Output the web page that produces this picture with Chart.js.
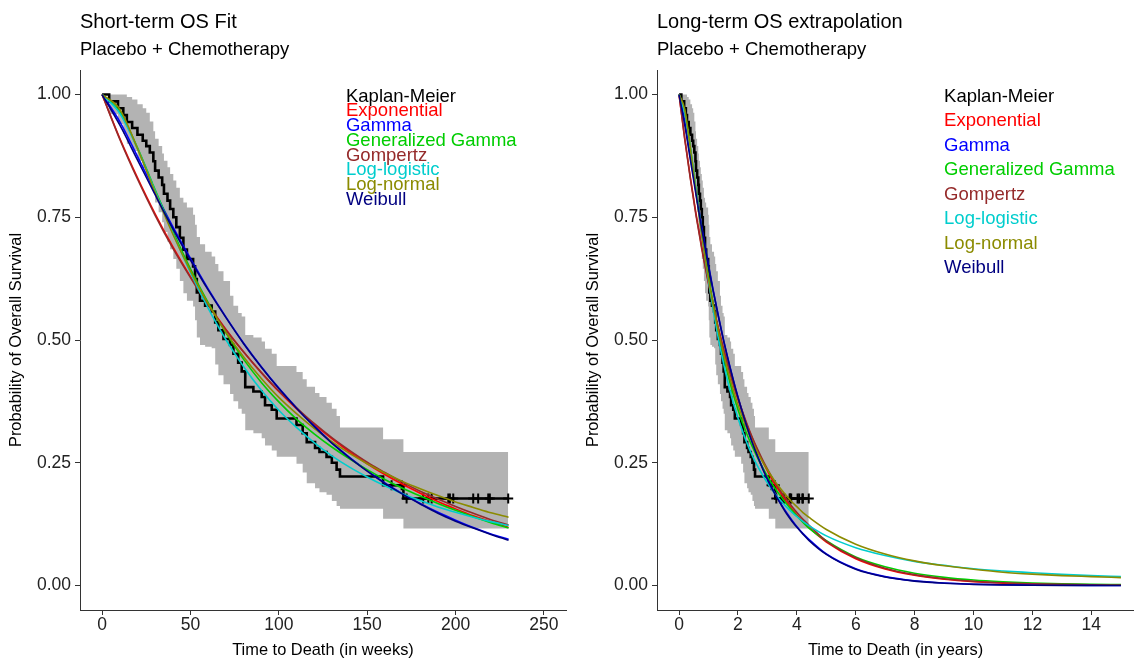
<!DOCTYPE html>
<html>
<head>
<meta charset="utf-8">
<script src="https://cdn.jsdelivr.net/npm/chart.js@4.4.0/dist/chart.umd.min.js"></script>
<style>
  html, body { margin: 0; padding: 0; background: #fff; overflow: hidden; }
  #left { position: absolute; left: 0; top: 0; }
  #right { position: absolute; left: 577px; top: 0; }
</style>
</head>
<body>
<canvas id="left" width="573" height="662"></canvas>
<canvas id="right" width="564" height="662"></canvas>
<script>
const WEEKS_PER_YEAR = 52.18;

// Kaplan-Meier steps (weeks) with 95% band
const kmWeeks = [0, 4, 9, 12, 14, 17, 20, 23, 25, 27, 29, 30, 32, 34, 35, 37, 38.5, 40.3, 42, 44,
  46, 48, 51.5, 52.6, 53.6, 55.4, 58.3, 62, 64, 65.8, 68.7, 72.4, 74.3, 77, 79, 81, 85.6, 90.3, 92.2, 96,
  98.8, 110, 113.5, 115.8, 120.5, 123, 127, 130, 132.7, 134.6, 159, 170.5];
const kmSurv = [1, 0.986, 0.972, 0.958, 0.944, 0.932, 0.918, 0.906, 0.895, 0.882, 0.864, 0.845, 0.831, 0.816, 0.798, 0.784, 0.767, 0.750, 0.730, 0.708,
  0.684, 0.665, 0.650, 0.624, 0.597, 0.580, 0.570, 0.558, 0.536, 0.520, 0.502, 0.490, 0.472, 0.454, 0.436, 0.404, 0.395, 0.384, 0.367, 0.358,
  0.340, 0.327, 0.310, 0.292, 0.280, 0.272, 0.262, 0.250, 0.236, 0.222, 0.204, 0.177];
const kmUpper = [1, 1, 1, 1, 0.995, 0.99, 0.98, 0.972, 0.963, 0.945, 0.925, 0.91, 0.895, 0.88, 0.865, 0.852, 0.838, 0.825, 0.81, 0.79,
  0.78, 0.77, 0.755, 0.735, 0.71, 0.695, 0.68, 0.67, 0.655, 0.64, 0.62, 0.59, 0.57, 0.555, 0.548, 0.51, 0.505, 0.497, 0.482, 0.472,
  0.447, 0.435, 0.42, 0.405, 0.392, 0.384, 0.372, 0.36, 0.345, 0.322, 0.298, 0.272];
const kmLower = [1, 0.96, 0.94, 0.92, 0.90, 0.885, 0.865, 0.85, 0.835, 0.82, 0.80, 0.78, 0.76, 0.74, 0.72, 0.70, 0.685, 0.665, 0.645, 0.62,
  0.595, 0.58, 0.568, 0.54, 0.505, 0.49, 0.486, 0.483, 0.45, 0.428, 0.41, 0.39, 0.375, 0.36, 0.35, 0.316, 0.31, 0.30, 0.285, 0.275,
  0.262, 0.248, 0.23, 0.208, 0.198, 0.19, 0.185, 0.172, 0.162, 0.156, 0.136, 0.116];
const kmEndWeek = 229.8;

const censorWeeks = [163.8, 169.5, 172.3, 181.7, 184.6, 186.5, 195.9, 196.8, 198.7, 210, 212.8, 218.5, 219.4, 229.8];
const censorSurv = [0.204, 0.204, 0.177, 0.177, 0.177, 0.177, 0.177, 0.177, 0.177, 0.177, 0.177, 0.177, 0.177, 0.177];

// fitted survival curves, read at these weeks
const fitWeeks = [0, 10, 20, 30, 40, 50, 60, 70, 80, 90, 100, 110, 120, 130, 140, 150, 160, 170, 180, 190, 200, 210, 220, 230,
  261, 313, 365, 417, 470, 522, 574, 626, 678, 730, 783];
const expSurv = [1, 0.911, 0.831, 0.757, 0.690, 0.629, 0.573, 0.522, 0.476, 0.434, 0.395, 0.360, 0.328, 0.299, 0.272, 0.248, 0.226, 0.206, 0.188, 0.171, 0.156, 0.142, 0.130, 0.118,
  0.0885, 0.0546, 0.0337, 0.0208, 0.0127, 0.0078, 0.0048, 0.0030, 0.0018, 0.0011, 0.0007];
const gammaSurv = [1, 0.945, 0.874, 0.801, 0.731, 0.666, 0.604, 0.547, 0.494, 0.446, 0.402, 0.362, 0.325, 0.291, 0.261, 0.234, 0.209, 0.187, 0.167, 0.149, 0.133, 0.118, 0.105, 0.094,
  0.064, 0.034, 0.018, 0.0095, 0.005, 0.0026, 0.0013, 0.0007, 0.0004, 0.0002, 0.0001];
const genGammaSurv = [1, 0.965, 0.892, 0.806, 0.722, 0.645, 0.576, 0.515, 0.461, 0.414, 0.374, 0.339, 0.309, 0.282, 0.258, 0.236, 0.216, 0.198, 0.182, 0.167, 0.153, 0.140, 0.128, 0.117,
  0.091, 0.058, 0.038, 0.025, 0.0165, 0.011, 0.0075, 0.005, 0.0035, 0.0025, 0.0018];
const gompertzSurv = [1, 0.909, 0.828, 0.754, 0.687, 0.627, 0.571, 0.521, 0.476, 0.434, 0.396, 0.362, 0.330, 0.301, 0.275, 0.251, 0.230, 0.210, 0.192, 0.176, 0.161, 0.147, 0.134, 0.123,
  0.0905, 0.0565, 0.035, 0.022, 0.0138, 0.0086, 0.0054, 0.0034, 0.0021, 0.0013, 0.0009];
const logLogisticSurv = [1, 0.962, 0.890, 0.804, 0.718, 0.637, 0.565, 0.501, 0.446, 0.398, 0.357, 0.322, 0.291, 0.264, 0.241, 0.221, 0.203, 0.187, 0.173, 0.160, 0.149, 0.139, 0.130, 0.122,
  0.101, 0.077, 0.061, 0.049, 0.041, 0.034, 0.0295, 0.026, 0.0225, 0.020, 0.018];
const logNormalSurv = [1, 0.970, 0.890, 0.801, 0.716, 0.641, 0.574, 0.516, 0.466, 0.422, 0.383, 0.350, 0.320, 0.293, 0.269, 0.248, 0.229, 0.212, 0.197, 0.183, 0.170, 0.159, 0.148, 0.139,
  0.114, 0.084, 0.064, 0.050, 0.040, 0.033, 0.027, 0.023, 0.020, 0.018, 0.016];
const weibullSurv = [1, 0.938, 0.867, 0.796, 0.727, 0.663, 0.602, 0.546, 0.493, 0.445, 0.401, 0.361, 0.324, 0.290, 0.260, 0.233, 0.208, 0.186, 0.166, 0.147, 0.131, 0.117, 0.104, 0.092,
  0.0633, 0.033, 0.0172, 0.0088, 0.0044, 0.0022, 0.0011, 0.0005, 0.0002, 0.0001, 0];

const modelNames = ['Exponential', 'Gamma', 'Generalized Gamma', 'Gompertz', 'Log-logistic', 'Log-normal', 'Weibull'];
const modelColors = ['#FF0000', '#0000FF', '#00CD00', '#952A2A', '#00CDCD', '#8B8B00', '#000080'];
const modelSurv = [expSurv, gammaSurv, genGammaSurv, gompertzSurv, logLogisticSurv, logNormalSurv, weibullSurv];

const yTicks = [0, 0.25, 0.5, 0.75, 1];
const yTickLabels = ['0.00', '0.25', '0.50', '0.75', '1.00'];
const weekTicks = [0, 50, 100, 150, 200, 250];
const yearTicks = [0, 2, 4, 6, 8, 10, 12, 14];

const FONT = '"Liberation Sans", Arial, sans-serif';
const AXIS = '#333333';
const BAND = '#B3B3B3';
Chart.defaults.font.family = FONT;
Chart.defaults.color = '#000';

const legendLabels = ['Kaplan-Meier'].concat(modelNames);
const legendColors = ['#000000'].concat(modelColors);

const panelText = {
  id: 'panelText',
  afterDraw(chart, args, o) {
    const { ctx, chartArea, scales } = chart;
    ctx.save();
    ctx.textAlign = 'left';
    ctx.textBaseline = 'alphabetic';
    ctx.fillStyle = '#000';
    ctx.font = '20px ' + FONT;
    ctx.fillText(o.title, chartArea.left, 28);
    ctx.font = '18.5px ' + FONT;
    ctx.fillText('Placebo + Chemotherapy', chartArea.left, 55);
    ctx.textBaseline = 'middle';
    ctx.font = '18.5px ' + FONT;
    const lx = scales.x.getPixelForValue(o.legendX);
    legendLabels.forEach((txt, i) => {
      ctx.fillStyle = legendColors[i];
      ctx.fillText(txt, lx, scales.y.getPixelForValue(1 - i * o.legendStep) + 2);
    });
    ctx.restore();
  }
};

function stepPoints(vals, toX) {
  const pts = kmWeeks.map((w, i) => ({ x: toX(w), y: vals[i] }));
  pts.push({ x: toX(kmEndWeek), y: vals[vals.length - 1] });
  return pts;
}

function makeChart(id, p) {
  const datasets = [
    { data: stepPoints(kmUpper, p.toX), stepped: true, borderColor: 'transparent', borderWidth: 0,
      pointRadius: 0, fill: '+1', backgroundColor: BAND, order: 20 },
    { data: stepPoints(kmLower, p.toX), stepped: true, borderColor: 'transparent', borderWidth: 0,
      pointRadius: 0, fill: false, order: 20 },
    { data: stepPoints(kmSurv, p.toX), stepped: true, borderColor: '#000', borderWidth: 2.6,
      pointRadius: 0, fill: false, order: 15 },
    { data: censorWeeks.map((w, i) => ({ x: p.toX(w), y: censorSurv[i] })), showLine: false,
      pointStyle: 'cross', pointRadius: 5, pointBorderWidth: 2, borderColor: '#000', order: 14 }
  ];
  modelSurv.forEach((vals, m) => {
    const pts = [];
    fitWeeks.forEach((w, i) => { if (w <= p.maxWeek) pts.push({ x: p.toX(w), y: vals[i] }); });
    datasets.push({ data: pts, borderColor: modelColors[m], borderWidth: 1.6, pointRadius: 0,
      fill: false, cubicInterpolationMode: 'monotone', order: 7 - m });
  });

  return new Chart(document.getElementById(id), {
    type: 'line',
    data: { datasets },
    plugins: [panelText],
    options: {
      responsive: false,
      animation: false,
      devicePixelRatio: 1,
      layout: { padding: { top: 70, right: 0, bottom: 0, left: 0 } },
      plugins: {
        legend: { display: false },
        tooltip: { enabled: false },
        panelText: { title: p.title, legendX: p.legendX, legendStep: p.legendStep }
      },
      scales: {
        x: {
          type: 'linear', min: p.xMin, max: p.xMax,
          afterBuildTicks: s => { s.ticks = p.xTicks.map(v => ({ value: v })); },
          afterFit: s => { s.height = 52; },
          grid: { drawOnChartArea: false, tickLength: 5, color: AXIS },
          border: { color: AXIS, width: 1 },
          ticks: { color: '#222', font: { size: 17.5 }, padding: 0, maxRotation: 0, autoSkip: false,
            callback: v => String(v) },
          title: { display: true, text: p.xTitle, color: '#000', font: { size: 16.4 }, padding: { top: 0, bottom: 2 } }
        },
        y: {
          type: 'linear', min: -0.05, max: 1.05,
          afterBuildTicks: s => { s.ticks = yTicks.map(v => ({ value: v })); },
          afterFit: s => { s.width = 80; },
          grid: { drawOnChartArea: false, tickLength: 5, color: AXIS },
          border: { color: AXIS, width: 1 },
          ticks: { color: '#222', font: { size: 17.5 }, padding: 4, callback: (v, i) => yTickLabels[i] },
          title: { display: true, text: 'Probability of Overall Survival', color: '#000', font: { size: 16.4 },
            padding: { top: 7, bottom: 0 } }
        }
      }
    }
  });
}

makeChart('left', {
  toX: w => w, maxWeek: 230, xMin: -12.5, xMax: 262.5, xTicks: weekTicks,
  xTitle: 'Time to Death (in weeks)', title: 'Short-term OS Fit', legendX: 138, legendStep: 0.03
});
makeChart('right', {
  toX: w => w / WEEKS_PER_YEAR, maxWeek: 800, xMin: -0.75, xMax: 15.45, xTicks: yearTicks,
  xTitle: 'Time to Death (in years)', title: 'Long-term OS extrapolation', legendX: 9, legendStep: 0.05
});
</script>
</body>
</html>
